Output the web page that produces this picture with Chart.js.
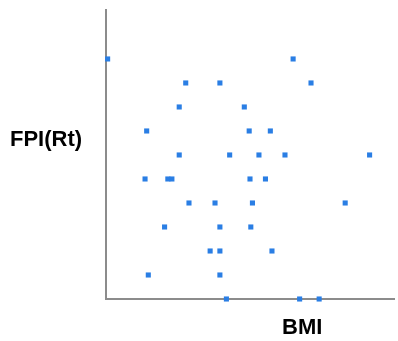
<!DOCTYPE html>
<html>
<head>
<meta charset="utf-8">
<script src="https://cdn.jsdelivr.net/npm/chart.js@4.4.0/dist/chart.umd.min.js"></script>
<style>
  body { margin: 0; background: #fff; }
  #wrap { position: relative; width: 398px; height: 341px; }
  .lbl { position: absolute; font: bold 22px "Liberation Sans", Arial, sans-serif; line-height: 22px; color: #000; white-space: nowrap; }
</style>
</head>
<body>
<div id="wrap">
  <canvas id="chart" width="398" height="341"></canvas>
  <div class="lbl" style="left:10px; top:128px;">FPI(Rt)</div>
  <div class="lbl" style="left:282px; top:316px;">BMI</div>
</div>
<script>
// BMI values
const bmiValues = [
  18.1, 29.5,
  22.9, 25.0, 30.6,
  22.5, 26.5,
  20.5, 26.8, 28.1,
  22.5, 25.6, 27.4, 29.0, 34.2,
  20.4, 21.8, 22.05, 26.85, 27.8,
  23.1, 24.7, 27.0, 32.7,
  21.6, 25.0, 26.9,
  24.4, 25.0, 28.2,
  20.6, 25.0,
  25.4, 29.9, 31.1
];
// FPI(Rt) values (integer levels)
const fpiValues = [
  10, 10,
  9, 9, 9,
  8, 8,
  7, 7, 7,
  6, 6, 6, 6, 6,
  5, 5, 5, 5, 5,
  4, 4, 4, 4,
  3, 3, 3,
  2, 2, 2,
  1, 1,
  0, 0, 0
];

const points = bmiValues.map((x, i) => ({ x: x, y: fpiValues[i] }));

const ctx = document.getElementById('chart').getContext('2d');
new Chart(ctx, {
  type: 'scatter',
  data: {
    datasets: [{
      data: points,
      pointStyle: 'rect',
      radius: 3.6,
      borderWidth: 0,
      backgroundColor: '#2a7ee4',
      clip: false,
    }]
  },
  options: {
    responsive: false,
    animation: false,
    layout: { padding: { left: 106, top: 10, right: 0, bottom: 42 } },
    plugins: { legend: { display: false }, tooltip: { enabled: false } },
    scales: {
      x: {
        min: 18, max: 35.7,
        ticks: { display: false },
        grid: { display: false },
        border: { display: true, color: '#8c8c8c', width: 2 },
        afterFit: (scale) => { scale.height = 0; },
      },
      y: {
        min: 0, max: 12.04,
        ticks: { display: false },
        grid: { display: false },
        border: { display: true, color: '#8c8c8c', width: 2 },
        afterFit: (scale) => { scale.width = 0; },
      },
    },
  },
});
</script>
</body>
</html>
